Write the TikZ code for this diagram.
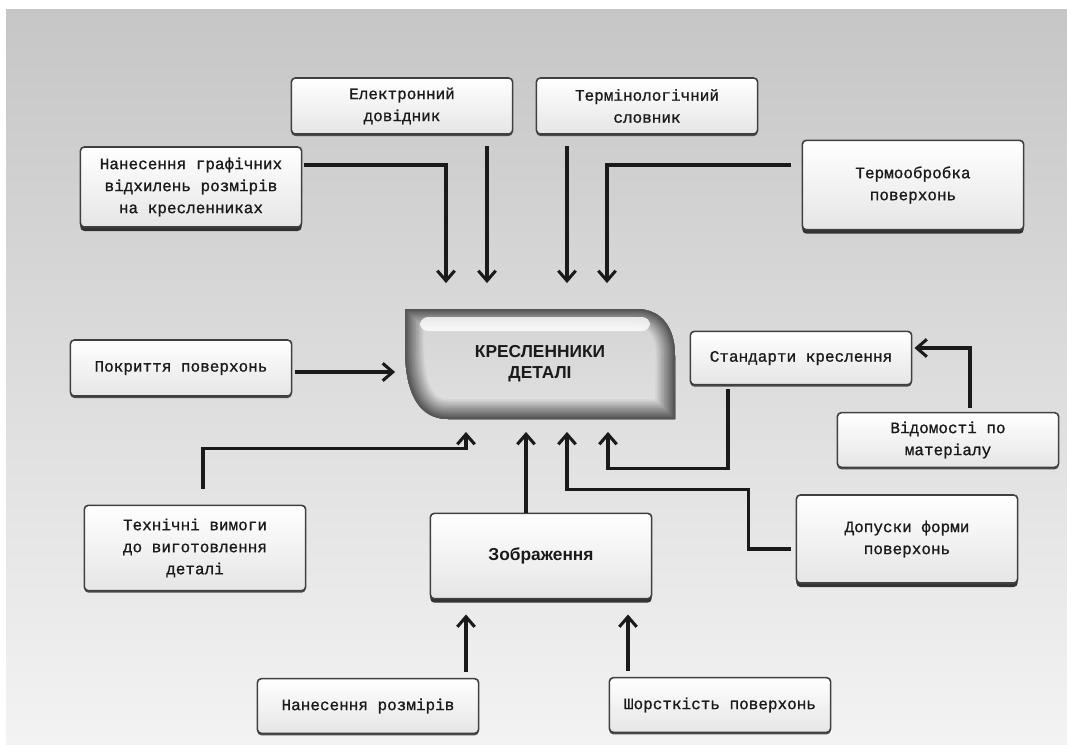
\documentclass[tikz,border=0pt]{standalone}
\usepackage{fontspec}
\setmainfont{Liberation Sans}
\newfontfamily\boxfont[RawFeature={embolden=0.9}]{Liberation Mono}
\usetikzlibrary{arrows.meta,shadows,calc}
\definecolor{bgtop}{HTML}{C6C6C6}
\definecolor{bgbot}{HTML}{F3F3F3}
\definecolor{ink}{HTML}{1A1A1A}
\newcommand{\dwgoutline}{(405,309) -- (636,309) .. controls (662,309) and (675,328) .. (675,356)
  -- (675,419) -- (448,419) .. controls (420,419) and (405,395) .. (405,348) -- cycle}

\begin{document}
\begin{tikzpicture}[x=0.75pt,y=-0.75pt,
    card/.style={draw=black!75,line width=1.2pt,rounded corners=3pt,
      top color=white,bottom color=black!10,minimum width=166pt,align=center,
      font={\boxfont\fontsize{12}{16.5}\selectfont},text=ink,
      drop shadow={shadow xshift=0pt,shadow yshift=-1.5pt,fill=black!70,opacity=1}},
    heavy card/.style={card,drop shadow={shadow xshift=0pt,shadow yshift=-3pt,fill=black!80,opacity=1}},
    arr/.style={draw=ink,line width=2.3pt,-{Straight Barb[length=7.5pt,width=13pt]}}]

  \useasboundingbox (0,0) rectangle (1067,744);
  \fill[top color=bgtop,bottom color=bgbot] (6,9) rectangle (1067,744);

  % central sheet
  \fill[top color=black!17,bottom color=black!12] \dwgoutline;
  \begin{scope}
    \clip \dwgoutline;
    \foreach \i in {0,...,12} {
      \pgfmathsetmacro\w{30-2.3*\i}
      \pgfmathsetmacro\c{16+4.2*\i}
      \draw[black!\c,line width=\w pt] \dwgoutline;
    }
    \fill[white,opacity=0.8,rounded corners=6pt] (420,317) rectangle (650,331);
  \end{scope}
  \node[minimum width=202pt,minimum height=82pt,align=center,
    font={\bfseries\fontsize{13}{15.75}\selectfont},text=ink] (dwg) at (540,364) {КРЕСЛЕННИКИ\\ДЕТАЛІ};

  \node[card,minimum height=42pt] (elec) at (402,106) {Електронний\\довідник};
  \node[card,minimum height=42pt] (term) at (647,106) {Термінологічний\\словник};
  \node[heavy card,minimum height=60pt] (nag) at (191,187) {Нанесення графічних\\відхилень розмірів\\на кресленниках};
  \node[heavy card,minimum height=67pt] (heat) at (913,185) {Термообробка\\поверхонь};
  \node[card,minimum height=42pt] (cover) at (181,368) {Покриття поверхонь};
  \node[card,minimum height=40pt] (std) at (801,358) {Стандарти креслення};
  \node[card,minimum height=41pt] (mat) at (948,440) {Відомості по\\матеріалу};
  \node[card,minimum height=64pt] (tech) at (195,548) {Технічні вимоги\\до виготовлення\\деталі};
  \node[heavy card,minimum height=64pt,font={\bfseries\fontsize{13}{16}\selectfont}] (img) at (541,556) {Зображення};
  \node[heavy card,minimum height=66pt] (tol) at (907,539) {Допуски форми\\поверхонь};
  \node[card,minimum height=41pt] (dim) at (368,706) {Нанесення розмірів};
  \node[card,minimum height=41pt] (rough) at (720,705) {Шорсткість поверхонь};

  % inputs from above
  \draw[arr] ($(nag.east)+(2,-22)$) -| ($(dwg.north)+(-94,-26)$);
  \draw[arr] ($(elec.south)+(85,11)$) -- ($(dwg.north)+(-53,-26)$);
  \draw[arr] ($(term.south)+(-80,11)$) -- ($(dwg.north)+(27,-26)$);
  \draw[arr] ($(heat.west)+(-11,-20)$) -| ($(dwg.north)+(67,-26)$);
  \draw[arr] ($(cover.east)+(3,4)$) -- ($(dwg.west)+(-10,8)$);
  % inputs from below
  \draw[arr] ($(tech.north)+(8,-16)$) |- ($(dwg.south)+(-74,30)$) -- ($(dwg.south)+(-74,13)$);
  \draw[arr] ($(img.north)+(-15,0)$) -- ($(dwg.south)+(-14,13)$);
  \draw[arr] ($(tol.west)+(-5,10)$) -- ++(-42,0) |- ($(dwg.south)+(27,71)$) -- ($(dwg.south)+(27,13)$);
  \draw[arr] ($(std.south)+(-73,4)$) |- ($(dwg.south)+(68,50)$) -- ($(dwg.south)+(68,13)$);
  \draw[arr] ($(mat.north)+(22,-4)$) |- ($(std.east)+(2,-10)$);
  \draw[arr] ($(dim.north)+(98,-6)$) -- ($(img.south)+(-75,15)$);
  \draw[arr] ($(rough.north)+(-92,-6)$) -- ($(img.south)+(87,15)$);
\end{tikzpicture}
\end{document}
